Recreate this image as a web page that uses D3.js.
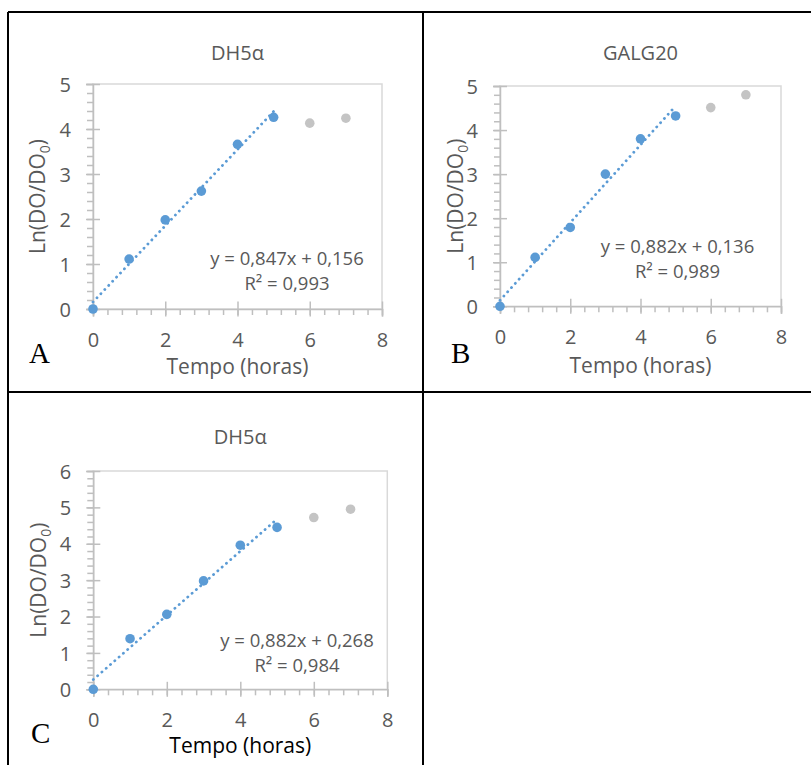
<!DOCTYPE html>
<html>
<head>
<meta charset="utf-8">
<script src="https://cdn.jsdelivr.net/npm/d3@7"></script>
<style>
  body { margin: 0; background: #fff; }
  svg { display: block; font-family: "Open Sans", sans-serif; }
</style>
</head>
<body>
<div id="chart"></div>
<script>
const W = 811, H = 765;

// data
const hours = [0, 1, 2, 3, 4, 5, 6, 7];
const lnA = [0, 1.11, 1.98, 2.62, 3.66, 4.26, 4.13, 4.24];
const lnB = [0, 1.11, 1.79, 3.00, 3.80, 4.32, 4.51, 4.80];
const lnC = [0, 1.39, 2.06, 2.98, 3.96, 4.45, 4.72, 4.95];
const nFit = 6; // first 6 points are used for the fit, rest grey
const titles = ["DH5α", "GALG20", "DH5α"];
const letters = ["A", "B", "C"];
const fits = [
  {a: 0.847, b: 0.156, r2: "0,993"},
  {a: 0.882, b: 0.136, r2: "0,989"},
  {a: 0.882, b: 0.268, r2: "0,984"}
];
const yMaxes = [5, 5, 6];
const xMax = 8;

// panel layout (pixels)
const panels = [
  {vals: lnA, x0: 93, x1: 382, yTop: 84, yBot: 309, titleY: 60, xTitleY: 374, xTitleDark: false,
   ylabX: 45, eqX: 287, eqY: 265, letX: 29, letY: 363},
  {vals: lnB, x0: 500, x1: 781, yTop: 86, yBot: 306.3, titleY: 60, xTitleY: 373, xTitleDark: false,
   ylabX: 463, eqX: 677.5, eqY: 253, letX: 451, letY: 363},
  {vals: lnC, x0: 93.3, x1: 387.3, yTop: 471, yBot: 689.3, titleY: 444, xTitleY: 753, xTitleDark: true,
   ylabX: 46, eqX: 297, eqY: 647, letX: 31, letY: 743}
];

const grey = "#595959";
const blue = "#5b9bd5";

const svg = d3.select("#chart").append("svg")
  .attr("width", W).attr("height", H);

// table borders
const border = svg.append("g").attr("stroke", "#000").attr("stroke-width", 2);
border.append("line").attr("x1", 8).attr("x2", W).attr("y1", 12).attr("y2", 12);
border.append("line").attr("x1", 8).attr("x2", W).attr("y1", 392).attr("y2", 392);
border.append("line").attr("x1", 8).attr("x2", 8).attr("y1", 12).attr("y2", H);
border.append("line").attr("x1", 423).attr("x2", 423).attr("y1", 12).attr("y2", H);

panels.forEach((p, i) => {
  const x = d3.scaleLinear().domain([0, xMax]).range([p.x0, p.x1]);
  const y = d3.scaleLinear().domain([0, yMaxes[i]]).range([p.yBot, p.yTop]);
  const g = svg.append("g");
  const cx = (p.x0 + p.x1) / 2;

  // plot box
  g.append("rect")
    .attr("x", p.x0).attr("y", p.yTop)
    .attr("width", p.x1 - p.x0).attr("height", p.yBot - p.yTop)
    .attr("fill", "none").attr("stroke", "#d9d9d9").attr("stroke-width", 1.5);

  // minor ticks
  g.append("g").attr("transform", `translate(0,${p.yBot})`)
    .call(d3.axisBottom(x).tickValues(d3.range(0, xMax + 0.01, 0.4)).tickSize(6).tickFormat(""))
    .call(s => s.select(".domain").remove())
    .selectAll("line").attr("stroke", "#bfbfbf").attr("stroke-width", 1.5);
  g.append("g").attr("transform", `translate(${p.x0},0)`)
    .call(d3.axisLeft(y).tickValues(d3.range(0, yMaxes[i] + 0.01, 0.2)).tickSize(6).tickFormat(""))
    .call(s => s.select(".domain").remove())
    .selectAll("line").attr("stroke", "#bfbfbf").attr("stroke-width", 1.5);

  // major axes with crossing ticks
  const xa = g.append("g").attr("transform", `translate(0,${p.yBot})`)
    .call(d3.axisBottom(x).tickValues([0, 2, 4, 6, 8]).tickSize(7.5).tickPadding(0));
  xa.select(".domain").attr("stroke", "#bfbfbf").attr("stroke-width", 1.5);
  xa.selectAll("line").attr("y1", -7.5).attr("stroke", "#bfbfbf").attr("stroke-width", 1.5);
  xa.selectAll("text").attr("y", 24).attr("dy", "0.71em")
    .attr("fill", grey).style("font-size", "20px").style("font-family", "'Open Sans', sans-serif");

  const ya = g.append("g").attr("transform", `translate(${p.x0},0)`)
    .call(d3.axisLeft(y).ticks(yMaxes[i]).tickSize(7).tickPadding(0));
  ya.select(".domain").attr("stroke", "#bfbfbf").attr("stroke-width", 1.5);
  ya.selectAll("line").attr("x1", 7).attr("stroke", "#bfbfbf").attr("stroke-width", 1.5);
  ya.selectAll("text").attr("x", -22).attr("dy", "0.36em")
    .attr("fill", grey).style("font-size", "20px").style("font-family", "'Open Sans', sans-serif");

  // trend line
  const fit = fits[i];
  const line = d3.line().x(d => x(d)).y(d => y(fit.a * d + fit.b));
  g.append("path")
    .attr("d", line([0, nFit - 1]))
    .attr("fill", "none").attr("stroke", blue).attr("stroke-width", 2.8)
    .attr("stroke-linecap", "round").attr("stroke-dasharray", "0.1 5.6");

  // points
  const pts = hours.map((h, k) => ({h, v: p.vals[k], fit: k < nFit}));
  g.selectAll("circle.pt").data(pts).join("circle")
    .attr("class", "pt")
    .attr("cx", d => x(d.h)).attr("cy", d => y(d.v)).attr("r", 4.8)
    .attr("fill", d => d.fit ? blue : "#c4c4c4");

  // title
  g.append("text").attr("x", cx).attr("y", p.titleY)
    .attr("text-anchor", "middle").attr("fill", grey).style("font-size", "20px")
    .text(titles[i]);

  // x title
  g.append("text").attr("x", cx).attr("y", p.xTitleY)
    .attr("text-anchor", "middle").attr("fill", p.xTitleDark ? "#000" : grey).style("font-size", "21px")
    .text("Tempo (horas)");

  // y title
  const yl = g.append("text")
    .attr("transform", `translate(${p.ylabX},${(p.yTop + p.yBot) / 2}) rotate(-90)`)
    .attr("text-anchor", "middle").attr("fill", grey).style("font-size", "21px");
  yl.append("tspan").text("Ln(DO/DO");
  yl.append("tspan").attr("dy", 5).style("font-size", "14px").text("0");
  yl.append("tspan").attr("dy", -5).text(")");

  // equation
  const eq = g.append("text").attr("text-anchor", "middle").attr("fill", grey).style("font-size", "18.5px");
  eq.append("tspan").attr("x", p.eqX).attr("y", p.eqY)
    .text(`y = ${d3.format(".3f")(fit.a).replace(".", ",")}x + ${d3.format(".3f")(fit.b).replace(".", ",")}`);
  eq.append("tspan").attr("x", p.eqX).attr("y", p.eqY + 25).text(`R² = ${fit.r2}`);

  // panel letter
  g.append("text").attr("x", p.letX).attr("y", p.letY)
    .attr("fill", "#000").style("font-family", "'Liberation Serif', 'Times New Roman', serif")
    .style("font-size", "29px").text(letters[i]);
});
</script>
</body>
</html>
